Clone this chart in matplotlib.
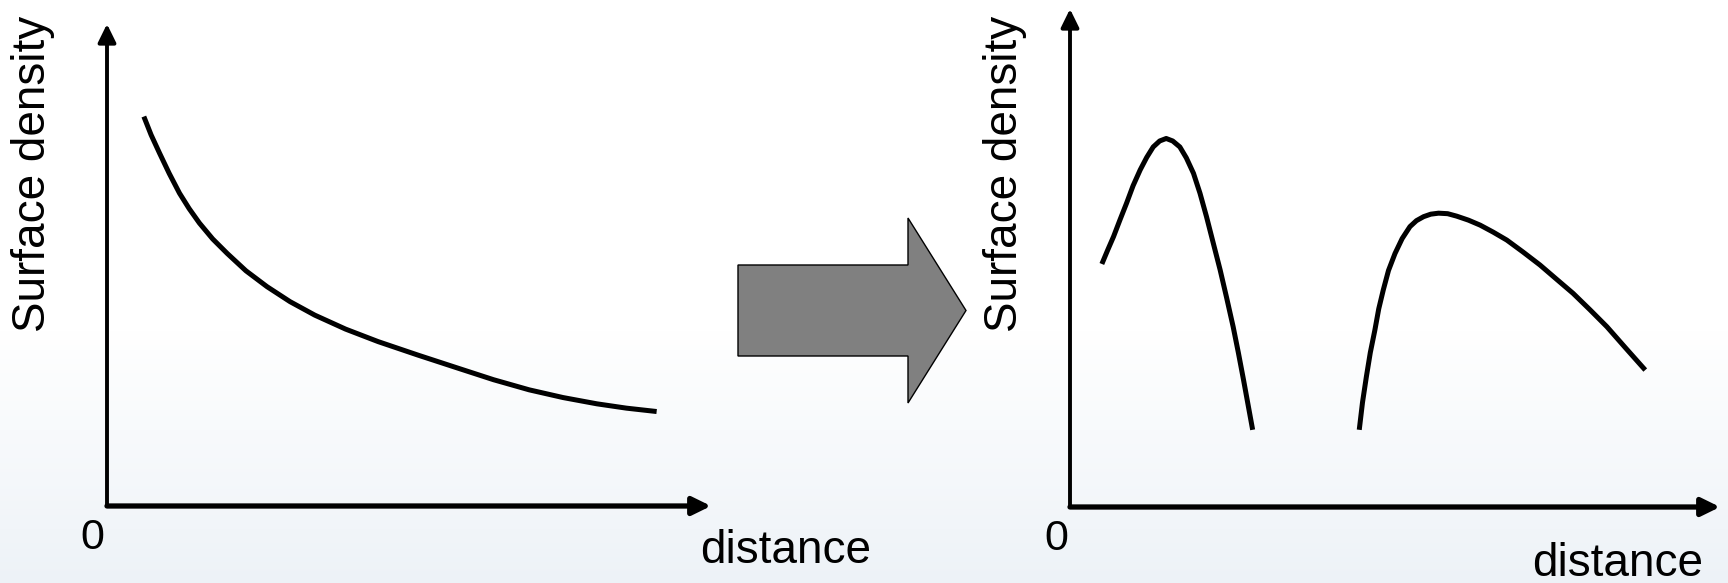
import numpy as np
import matplotlib.pyplot as plt
from matplotlib.patches import FancyArrow

plt.rcParams['font.family'] = ['Liberation Sans', 'DejaVu Sans']

# left sketch: monotonic decrease (axis units 0-100)
left_x = [6.1, 7.3, 8.7, 10.3, 12.0, 13.6, 15.3, 17.5, 19.9, 23.0, 26.5, 30.3, 34.4,
          39.5, 44.9, 51.5, 58.1, 64.0, 69.9, 75.5, 81.1, 86.0, 91.0]
left_y = [80.8, 77.0, 73.2, 69.0, 64.9, 61.7, 58.7, 55.4, 52.4, 48.8, 45.5, 42.4, 39.6,
          36.7, 34.1, 31.3, 28.6, 26.2, 24.1, 22.5, 21.2, 20.3, 19.6]

# right sketch: two separated rings
ring1_x = [4.9, 5.8, 6.7, 7.7, 8.7, 9.7, 10.8, 11.8, 12.8, 13.8, 14.8, 15.8, 16.9,
           17.9, 19.0, 20.0, 21.0, 22.0, 23.1, 24.1, 25.1, 25.9, 26.7, 27.4, 28.1]
ring1_y = [48.8, 51.6, 54.3, 57.7, 61.0, 64.5, 67.7, 70.2, 72.3, 73.5, 74.0, 73.5, 72.3,
           70.1, 67.0, 63.0, 58.3, 53.2, 47.6, 42.0, 36.2, 31.0, 25.5, 20.5, 15.5]
ring2_x = [44.5, 45.0, 45.6, 46.2, 46.9, 47.5, 48.2, 49.0, 50.0, 51.1, 52.3, 53.3, 54.4,
           55.5, 56.7, 58.1, 59.5, 61.3, 63.1, 65.1, 67.2, 69.7, 72.3, 74.8, 77.4,
           80.0, 82.6, 85.5, 88.5]
ring2_y = [15.5, 21.0, 26.2, 31.0, 35.5, 39.8, 43.6, 47.5, 50.9, 53.9, 56.3, 57.5, 58.3,
           58.8, 59.0, 58.9, 58.4, 57.6, 56.6, 55.2, 53.6, 51.2, 48.6, 45.8, 42.9,
           39.6, 36.2, 31.9, 27.5]

W, H = 1728, 583
fig = plt.figure(figsize=(W / 100, H / 100), dpi=100)

# background with faint bluish fade at the bottom
bg = fig.add_axes([0, 0, 1, 1])
bg.set_xlim(0, W)
bg.set_ylim(H, 0)
bg.axis('off')
t = np.clip((np.arange(H) - 330) / (H - 330), 0, 1)[:, None]
top = np.array([1.0, 1.0, 1.0])
bottom = np.array([0.93, 0.95, 0.97])
grad = (1 - t)[:, :, None] * top + t[:, :, None] * bottom
grad = np.repeat(grad, 2, axis=1)
bg.imshow(grad, extent=[0, W, H, 0], aspect='auto', zorder=0)

# big grey arrow in the middle
bg.add_patch(FancyArrow(738, 310.5, 228, 0, width=91, head_width=185,
                        head_length=58, length_includes_head=True,
                        facecolor='#808080', edgecolor='black', lw=1, zorder=2))

def sketch_axes(rect):
    ax = fig.add_axes(rect)
    ax.set_xlim(0, 100)
    ax.set_ylim(0, 100)
    ax.axis('off')
    ax.patch.set_alpha(0)
    ax.annotate('', xy=(100, 0), xytext=(0, 0),
                arrowprops=dict(arrowstyle='-|>,head_length=0.55,head_width=0.27',
                                lw=3.8, color='black', mutation_scale=20,
                                shrinkA=0, shrinkB=0),
                annotation_clip=False)
    ax.annotate('', xy=(0, 100), xytext=(0, 0),
                arrowprops=dict(arrowstyle='-|>,head_length=0.55,head_width=0.27',
                                lw=2.8, color='black', mutation_scale=20,
                                shrinkA=0, shrinkB=0),
                annotation_clip=False)
    return ax

line_kw = dict(color='black', lw=3.6, solid_capstyle='butt', solid_joinstyle='round')

ax1 = sketch_axes([107 / W, (H - 506) / H, 604 / W, 482 / H])
ax1.plot(left_x, left_y, **line_kw)

ax2 = sketch_axes([1070 / W, (H - 507) / H, 650 / W, 498 / H])
ax2.plot(ring1_x, ring1_y, **line_kw)
ax2.plot(ring2_x, ring2_y, **line_kw)

# labels
fs = 33
bg.text(33, 174, 'Surface density', rotation=90, fontsize=fs, ha='center', va='center')
bg.text(1005, 174, 'Surface density', rotation=90, fontsize=fs, ha='center', va='center')
bg.text(92, 538, '0', fontsize=31, ha='center', va='center')
bg.text(1056, 539, '0', fontsize=31, ha='center', va='center')
bg.text(786, 551, 'distance', fontsize=fs, ha='center', va='center')
bg.text(1618, 564, 'distance', fontsize=fs, ha='center', va='center')

fig.savefig('out.png', dpi=100)
